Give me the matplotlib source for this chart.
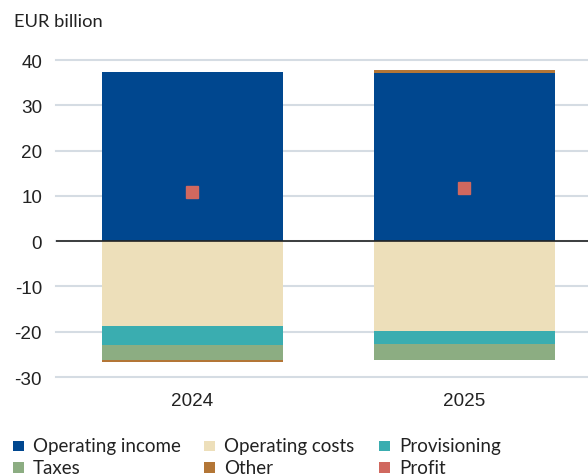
import numpy as np
import matplotlib.pyplot as plt
from matplotlib.patches import Rectangle

plt.rcParams['font.family'] = ['Lato', 'DejaVu Sans']

years = ['2024', '2025']
operating_income = [37.3, 37.1]
other_pos = [0.0, 0.8]
operating_costs = [-18.7, -19.8]
provisioning = [-4.2, -2.9]
taxes = [-3.4, -3.5]
other_neg = [-0.3, 0.0]
profit = [10.8, 11.7]
y_ticks = [-30, -20, -10, 0, 10, 20, 30, 40]

legend_labels = ['Operating income', 'Operating costs', 'Provisioning',
                 'Taxes', 'Other', 'Profit']

c_inc = '#00478F'
c_cost = '#EDDFBA'
c_prov = '#3AADB0'
c_tax = '#8CAD82'
c_oth = '#B37636'
c_prof = '#D0685F'
legend_colors = [c_inc, c_cost, c_prov, c_tax, c_oth, c_prof]

W, H = 588, 477
fig = plt.figure(figsize=(W / 100, H / 100), dpi=100)
ax = fig.add_axes([0.0952, 0.2075, 0.9048, 0.6645])

x = np.arange(len(years))
w = 0.665

ax.bar(x, operating_income, w, color=c_inc, zorder=2)
ax.bar(x, other_pos, w, bottom=operating_income, color=c_oth, zorder=2)
bot = np.zeros(len(years))
for vals, col in [(operating_costs, c_cost), (provisioning, c_prov), (taxes, c_tax), (other_neg, c_oth)]:
    vals = np.array(vals)
    ax.bar(x, vals, w, bottom=bot, color=col, zorder=2)
    bot = bot + vals
ax.plot(x, profit, 's', color=c_prof, ms=8.5, zorder=4, linestyle='none')

ax.set_xlim(-0.5, 1.455)
ax.set_ylim(-30, 40)
ax.set_yticks(y_ticks)
ax.set_yticklabels([str(t) for t in y_ticks], fontfamily='Liberation Sans', fontsize=13.6)
ax.set_xticks(x)
ax.set_xticklabels(years, fontfamily='Liberation Sans', fontsize=13.6)
ax.grid(axis='y', color='#D5DCE3', lw=1.5, zorder=0)
ax.set_axisbelow(True)
ax.axhline(0, color='#222222', lw=1.2, zorder=3)
for s in ax.spines.values():
    s.set_visible(False)
ax.tick_params(axis='both', length=0, colors='#222222')
ax.tick_params(axis='y', pad=10)
ax.tick_params(axis='x', pad=11)
for gl in ax.get_ygridlines():
    gl.set_clip_on(False)

fig.text(14 / W, 1 - 22 / H, 'EUR billion', fontsize=13.2, color='#222222', va='center')

# legend drawn by hand: 3 columns, 2 rows
col_x = [13, 204, 379]
row_y = [447, 468.5]
sq = 10.5
for i, (lab, col) in enumerate(zip(legend_labels, legend_colors)):
    cx = col_x[i % 3]
    cy = row_y[i // 3]
    fig.add_artist(Rectangle((cx / W, 1 - (cy + sq / 2) / H), sq / W, sq / H,
                             transform=fig.transFigure, color=col, lw=0))
    fig.text((cx + 20) / W, 1 - cy / H, lab, fontsize=13.5, color='#222222', va='center')

fig.savefig('out.png', dpi=100)
